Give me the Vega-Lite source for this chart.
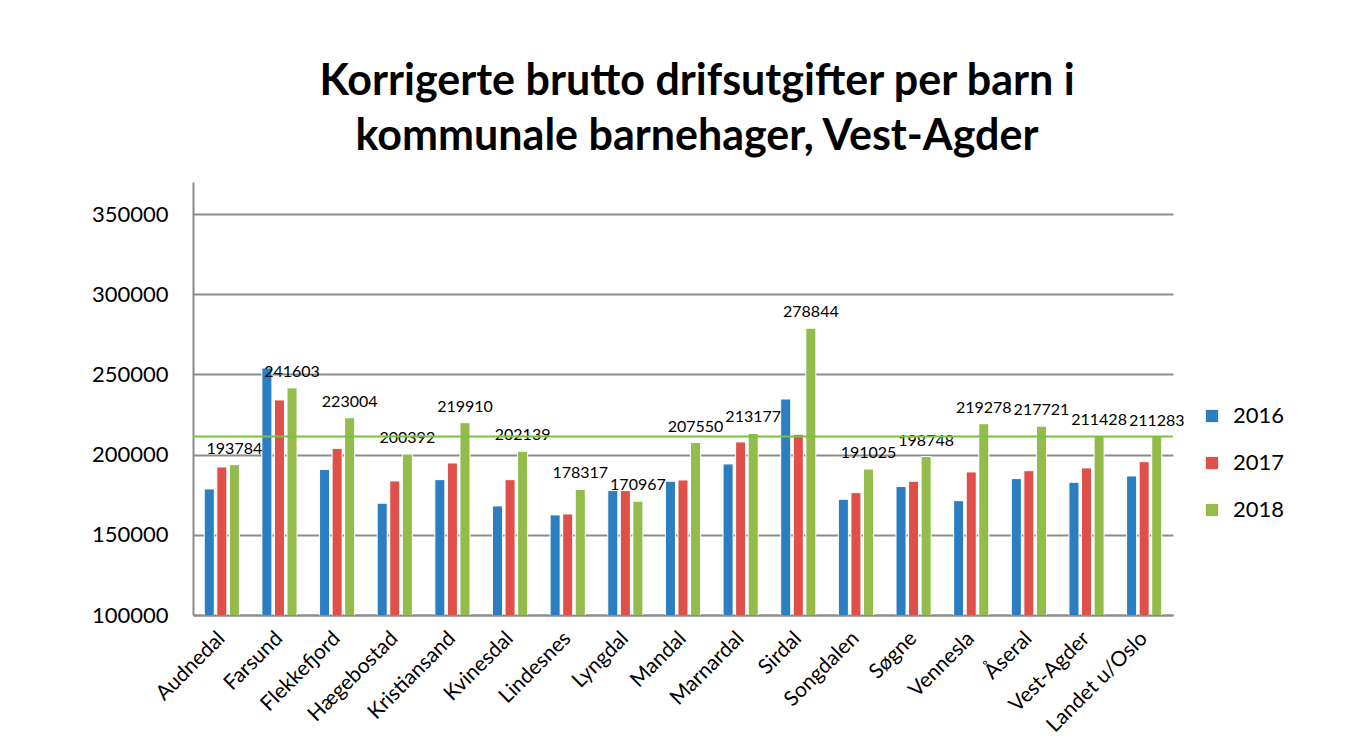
{
  "$schema": "https://vega.github.io/schema/vega-lite/v6.json",
  "autosize": {"type": "none"},
  "width": 980,
  "height": 433,
  "padding": {"left": 193, "top": 182, "right": 197, "bottom": 141},
  "background": "white",
  "title": {
    "text": ["Korrigerte brutto drifsutgifter per barn i", "kommunale barnehager, Vest-Agder"],
    "anchor": "middle",
    "font": "Lato",
    "fontSize": 43,
    "fontWeight": "bold",
    "color": "#000000",
    "lineHeight": 55,
    "offset": 23,
    "dx": 14
  },
  "datasets": {
    "kostnader": [
      {"kommune": "Audnedal", "year": "2016", "value": 178600},
      {"kommune": "Audnedal", "year": "2017", "value": 192300},
      {"kommune": "Audnedal", "year": "2018", "value": 193784},
      {"kommune": "Farsund", "year": "2016", "value": 254000},
      {"kommune": "Farsund", "year": "2017", "value": 234100},
      {"kommune": "Farsund", "year": "2018", "value": 241603},
      {"kommune": "Flekkefjord", "year": "2016", "value": 190700},
      {"kommune": "Flekkefjord", "year": "2017", "value": 203900},
      {"kommune": "Flekkefjord", "year": "2018", "value": 223004},
      {"kommune": "Hægebostad", "year": "2016", "value": 169700},
      {"kommune": "Hægebostad", "year": "2017", "value": 183600},
      {"kommune": "Hægebostad", "year": "2018", "value": 200392},
      {"kommune": "Kristiansand", "year": "2016", "value": 184400},
      {"kommune": "Kristiansand", "year": "2017", "value": 194800},
      {"kommune": "Kristiansand", "year": "2018", "value": 219910},
      {"kommune": "Kvinesdal", "year": "2016", "value": 168000},
      {"kommune": "Kvinesdal", "year": "2017", "value": 184400},
      {"kommune": "Kvinesdal", "year": "2018", "value": 202139},
      {"kommune": "Lindesnes", "year": "2016", "value": 162400},
      {"kommune": "Lindesnes", "year": "2017", "value": 163000},
      {"kommune": "Lindesnes", "year": "2018", "value": 178317},
      {"kommune": "Lyngdal", "year": "2016", "value": 177600},
      {"kommune": "Lyngdal", "year": "2017", "value": 177600},
      {"kommune": "Lyngdal", "year": "2018", "value": 170967},
      {"kommune": "Mandal", "year": "2016", "value": 183400},
      {"kommune": "Mandal", "year": "2017", "value": 184200},
      {"kommune": "Mandal", "year": "2018", "value": 207550},
      {"kommune": "Marnardal", "year": "2016", "value": 194200},
      {"kommune": "Marnardal", "year": "2017", "value": 207900},
      {"kommune": "Marnardal", "year": "2018", "value": 213177},
      {"kommune": "Sirdal", "year": "2016", "value": 234700},
      {"kommune": "Sirdal", "year": "2017", "value": 212650},
      {"kommune": "Sirdal", "year": "2018", "value": 278844},
      {"kommune": "Songdalen", "year": "2016", "value": 172150},
      {"kommune": "Songdalen", "year": "2017", "value": 176300},
      {"kommune": "Songdalen", "year": "2018", "value": 191025},
      {"kommune": "Søgne", "year": "2016", "value": 180100},
      {"kommune": "Søgne", "year": "2017", "value": 183400},
      {"kommune": "Søgne", "year": "2018", "value": 198748},
      {"kommune": "Vennesla", "year": "2016", "value": 171300},
      {"kommune": "Vennesla", "year": "2017", "value": 189200},
      {"kommune": "Vennesla", "year": "2018", "value": 219278},
      {"kommune": "Åseral", "year": "2016", "value": 185050},
      {"kommune": "Åseral", "year": "2017", "value": 190000},
      {"kommune": "Åseral", "year": "2018", "value": 217721},
      {"kommune": "Vest-Agder", "year": "2016", "value": 182750},
      {"kommune": "Vest-Agder", "year": "2017", "value": 191700},
      {"kommune": "Vest-Agder", "year": "2018", "value": 211428},
      {"kommune": "Landet u/Oslo", "year": "2016", "value": 186700},
      {"kommune": "Landet u/Oslo", "year": "2017", "value": 195600},
      {"kommune": "Landet u/Oslo", "year": "2018", "value": 211283}
    ],
    "referanse": [{"navn": "Landet u/Oslo 2018", "value": 211283}]
  },
  "layer": [
    {
      "data": {"name": "kostnader"},
      "mark": {"type": "bar", "stroke": "white", "strokeWidth": 1, "clip": true},
      "encoding": {
        "x": {
          "field": "kommune",
          "type": "nominal",
          "sort": null,
          "scale": {"paddingInner": 0.39, "paddingOuter": 0.195},
          "axis": {
            "title": null,
            "labelAngle": -45,
            "labelAlign": "right",
            "labelBaseline": "middle",
            "labelFont": "Lato",
            "labelFontSize": 21,
            "labelColor": "#000000",
            "labelPadding": 20,
            "ticks": false,
            "tickSize": 0,
            "domainColor": "#8c8c8c",
            "domainWidth": 2,
            "grid": false
          }
        },
        "xOffset": {
          "field": "year",
          "type": "nominal",
          "scale": {"paddingInner": 0.2, "paddingOuter": 0}
        },
        "y": {
          "field": "value",
          "type": "quantitative",
          "scale": {"domain": [100000, 370000], "nice": false, "zero": false},
          "axis": {
            "title": null,
            "values": [100000, 150000, 200000, 250000, 300000, 350000],
            "format": "d",
            "labelFont": "Lato",
            "labelFontSize": 22,
            "labelColor": "#000000",
            "labelPadding": 25,
            "ticks": false,
            "tickSize": 0,
            "domainColor": "#8c8c8c",
            "domainWidth": 2,
            "gridColor": "#8c8c8c",
            "gridWidth": 2
          }
        },
        "color": {
          "field": "year",
          "type": "nominal",
          "scale": {"domain": ["2016", "2017", "2018"], "range": ["#2a7ec1", "#e0504a", "#93bc4c"]},
          "legend": {
            "title": null,
            "orient": "none",
            "legendX": 1008,
            "legendY": 223,
            "symbolType": "square",
            "symbolSize": 150,
            "symbolStrokeWidth": 0,
            "labelFont": "Lato",
            "labelFontSize": 22,
            "labelColor": "#000000",
            "labelOffset": 10,
            "rowPadding": 25
          }
        }
      }
    },
    {
      "data": {"name": "kostnader"},
      "transform": [{"filter": "datum.year == '2018'"}],
      "mark": {"type": "text", "font": "Lato", "fontSize": 16, "color": "#000000", "baseline": "bottom", "dy": -8},
      "encoding": {
        "x": {"field": "kommune", "type": "nominal", "sort": null},
        "xOffset": {"field": "year", "type": "nominal"},
        "y": {"field": "value", "type": "quantitative"},
        "text": {"field": "value", "type": "quantitative", "format": "d"}
      }
    },
    {
      "data": {"name": "referanse"},
      "mark": {"type": "rule", "color": "#7ac143", "strokeWidth": 2},
      "encoding": {
        "y": {"field": "value", "type": "quantitative"}
      }
    }
  ],
  "config": {
    "view": {"stroke": null}
  }
}
